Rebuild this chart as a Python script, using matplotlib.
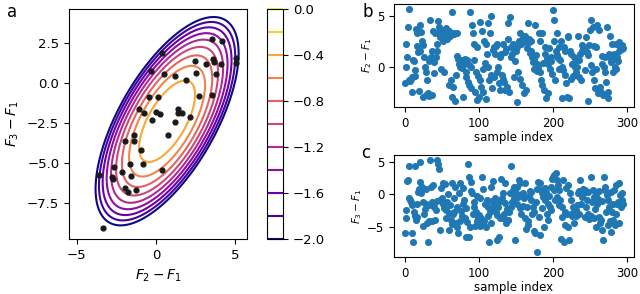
import numpy as np
import matplotlib
matplotlib.use("Agg")
import matplotlib.pyplot as plt

# ---- panel a: samples shown on top of the contours
a_x = [-3.38, -3.6, -2.79, -2.69, -2.63, -2.15, -1.96, -1.77, -1.29, -1.56, -1.63, -0.83,
       -0.96, -1.96, -1.38, -1.38, -1.06, -0.79, -0.46, 0.1, -0.27, -0.02, 0.23, 0.38,
       0.77, 1.19, 1.38, 1.42, 1.65, 2.17, 1.88, 1.21, 0.48, -0.33, 0.38, 2.44, 2.52,
       2.71, 3.15, 3.52, 4.17, 3.63, 3.65, 4.1, 3.79, 3.54, 5.08, 5.04]
a_y = [-9.08, -5.75, -5.86, -6.03, -5.27, -5.54, -6.55, -6.8, -6.67, -5.82, -5.1, -5.06,
       -4.18, -3.66, -3.66, -3.28, -1.67, -1.86, -0.92, -0.92, -2.32, -1.8, -1.97, -5.44,
       -3.28, -2.47, -1.63, -1.9, -1.9, -2.11, 0.15, 0.42, 0.52, 0.73, 1.86, 1.38, 0.61,
       -0.84, 1.15, 2.72, 2.59, 1.46, 1.3, 1.15, 0.52, -0.75, 1.57, 1.21]

# density model behind the contours (log scale)
center = (0.7, -2.4)
sig_x, sig_y, rho = 4.52, 6.5, 0.65
peak = -0.22
power = 2.44
levels = np.round(np.arange(-2.0, 0.01, 0.2), 1)
cbar_ticks = [0.0, -0.4, -0.8, -1.2, -1.6, -2.0]

# ---- panel b: F2 - F1 per sample
b_vals = [
    -1.6, 0.0, 2.3, 1.0, 3.9, 5.75, -1.3, -1.4, -1.2, -1.0,
    -2.5, 0.7, 0.6, -0.3, -0.9, 3.7, 3.3, 2.1, 1.5, -2.4,
    4.1, 1.6, 3.4, 2.6, -3.0, 2.2, 1.0, 0.0, -2.8, -0.5,
    -1.3, -2.6, 0.6, -2.9, 4.6, 1.0, -2.8, 1.6, 3.5, -0.6,
    0.5, 3.3, 1.0, 2.3, 1.6, 4.5, 3.9, 3.0, 3.5, -0.2,
    3.5, 3.0, 2.6, -0.5, 3.3, 3.8, 3.6, 2.8, 3.5, -1.8,
    3.5, 3.1, -1.3, -3.0, 5.4, -2.0, 3.3, 3.2, -3.4, -0.8,
    3.3, 1.1, 0.8, 0.3, 0.5, 0.0, 0.7, -0.1, -3.0, 0.2,
    0.6, 0.8, -0.5, -1.0, 0.7, -1.5, 0.2, -1.8, 5.4, 0.0,
    -2.1, 4.1, 3.3, 2.3, 0.7, -2.5, -0.5, -3.3, 2.0, -0.9,
    -3.0, -1.3, 4.4, -2.0, 3.5, -2.5, -0.2, 2.6, 0.4, -3.2,
    2.3, 1.3, 4.3, 0.0, -1.3, 3.3, -0.8, 5.0, -2.1, 1.7,
    2.0, -1.0, 1.3, 2.1, -0.5, 2.3, 0.0, -1.6, -2.3, 1.0,
    1.3, -0.8, -1.2, 2.3, -1.5, 1.5, -2.3, 1.8, -2.0, 2.8,
    4.3, -2.5, 4.9, 2.0, 1.0, 1.3, 2.3, -1.0, 1.6, 0.6,
    1.6, -3.5, 2.0, -0.5, 2.6, -1.2, 3.3, 2.3, -1.8, 2.5,
    3.0, -2.6, 2.6, 3.1, -2.3, 1.9, 4.3, 2.4, 2.8, 1.4,
    2.6, 1.6, 1.0, 0.5, 0.7, -0.2, 4.1, 1.2, -0.4, 0.3,
    0.0, 3.3, -0.5, 2.6, -1.3, 3.3, -1.8, 0.4, -2.3, 2.0,
    1.3, -3.1, 0.8, 0.3, -2.6, 1.9, -0.2, 0.6, 1.0, -0.7,
    5.6, 2.6, 4.6, -1.3, 1.6, 3.3, 1.2, 0.9, -0.2, 2.0,
    0.7, 2.6, 0.0, -3.1, -0.3, 2.0, -0.8, 1.6, -1.6, -3.0,
    3.1, 3.0, -3.1, 1.6, 1.3, -1.2, 0.3, -0.9, 1.0, 0.4,
    0.0, -0.5, -0.8, 0.0, 3.1, 0.7, -1.0, 1.3, -1.3, 2.2,
    1.6, 2.0, 1.8, -0.3, 1.6, 3.0, 1.5, 1.2, -3.4, 2.2,
    3.6, 4.6, 0.2, -0.5, 3.9, 2.1, -1.3, -2.1, -0.2, 2.0,
    4.1, -2.6, 3.6, -2.3, -2.0, -2.5, 0.3, 1.1, -2.8, 0.0,
    1.0, -0.5, -1.5, 3.9, -2.5, -3.1, 1.3, 3.1, 0.8, 0.5,
    2.3, -0.5, 0.7, 1.3, 0.0, -0.2, 2.3, 1.0, 0.6, 1.6,
    2.5, 2.0, 2.1, 1.8, 2.2, 1.9,
]

# ---- panel c: F3 - F1 per sample
c_vals = [
    -5.8, -2.4, -3.6, 2.1, 2.2, 4.3, -0.6, -0.9, -1.2, -1.6,
    -5.9, -7.2, -2.6, -3.2, 4.3, -3.9, -3.4, -1.4, 0.4, 0.9,
    5.0, 1.9, 0.2, 1.2, -1.1, -4.8, -2.9, -2.2, -1.4, 0.8,
    -4.4, -7.2, -4.1, -1.6, 5.3, 1.2, -4.0, -1.1, 1.4, -1.3,
    -1.9, -3.9, -2.4, -1.0, 5.2, 4.7, 3.9, -0.9, -5.4, 1.0,
    -0.6, 1.7, -1.4, -2.0, 1.6, -2.4, -3.6, -1.2, 0.0, -2.8,
    -5.4, -1.6, -3.9, -4.5, 1.7, -3.0, -2.6, -0.5, 1.2, -4.4,
    -4.9, -1.9, -5.8, 0.2, -4.0, 1.7, -2.5, -3.3, 1.0, -1.5,
    -0.9, -3.6, -2.0, -6.4, -4.2, 4.7, 2.7, -6.4, -5.0, 0.5,
    1.9, 0.2, -3.0, -1.1, -1.9, -4.8, -2.6, -0.3, -4.0, -3.5,
    -3.1, -0.6, -4.8, -3.6, 2.7, -4.4, 0.9, -4.1, -1.5, -4.9,
    -1.4, -0.8, -1.9, -3.2, -7.2, -2.6, 1.2, -4.4, -1.0, 2.0,
    -1.4, -2.1, -0.5, -2.6, -3.1, -6.9, -1.9, -6.4, -3.6, -1.0,
    2.4, -0.6, -3.5, 0.2, -2.9, -1.3, 1.7, -4.4, -2.2, -3.9,
    -3.9, -2.6, 0.2, -1.9, 4.3, -1.2, 0.7, -0.5, 1.2, -6.9,
    0.2, -1.4, 1.2, -0.4, 2.2, -2.1, 1.7, -2.9, 0.0, -1.7,
    0.2, -0.6, 1.7, -3.6, -5.2, -1.9, -4.6, -4.1, -0.2, 0.5,
    0.4, -0.9, -3.0, -1.9, -5.5, -2.6, -5.9, -1.2, -8.8, 0.9,
    1.9, -3.4, -6.2, 1.7, 0.7, -2.0, 0.2, -0.4, -4.9, 1.0,
    -0.9, 0.4, -2.9, -1.5, -3.9, -0.3, -1.9, 1.2, -2.4, 2.4,
    2.7, 0.7, 2.9, -0.8, 3.2, 2.2, -0.4, 1.5, 0.7, -1.6,
    -0.9, -6.7, -1.9, -3.4, 2.2, -7.2, -4.7, -2.6, 1.0, -3.0,
    -4.9, 1.4, -6.9, 0.2, -3.0, -0.9, -3.3, -1.9, -4.4, -2.5,
    -2.9, -3.2, -2.4, -1.6, 0.2, -3.0, 0.6, 2.2, -1.4, 0.0,
    -0.4, 0.8, 0.2, -3.4, 0.7, -1.9, -0.9, -2.9, 0.4, -3.7,
    -3.6, -3.2, 2.7, -1.2, 0.7, -3.5, -0.4, -2.2, -5.0, 0.0,
    -1.4, -0.7, -3.4, 0.5, -4.4, -3.9, -5.4, -1.0, -6.9, 2.7,
    0.7, 1.2, -2.7, -0.1, -4.7, -0.9, -1.9, -4.0, 0.4, -5.7,
    -2.6, -1.4, -3.9, 0.7, -4.6, -2.9, 1.5, -1.4, -1.1, -4.4,
    1.7, -0.1, -1.9, 0.2, -0.9, -1.5,
]

W, H = 640, 294


def box(left, top, right, bottom):
    # pixel box -> figure fraction rect
    return [left / W, 1 - bottom / H, (right - left) / W, (bottom - top) / H]


fig = plt.figure(figsize=(W / 100, H / 100), dpi=100)

# ---- panel a
ax_a = fig.add_axes(box(69, 9, 247, 239))
gx, gy = np.meshgrid(np.linspace(-5.5, 5.75, 400), np.linspace(-9.75, 4.6, 400))
cov = np.array([[sig_x ** 2, rho * sig_x * sig_y], [rho * sig_x * sig_y, sig_y ** 2]])
inv = np.linalg.inv(cov)
dx, dy = gx - center[0], gy - center[1]
d2 = inv[0, 0] * dx * dx + 2 * inv[0, 1] * dx * dy + inv[1, 1] * dy * dy
field = peak - (2 + peak) * np.sqrt(d2) ** power
cs = ax_a.contour(gx, gy, field, levels=levels, cmap="plasma", vmin=-2, vmax=0, linewidths=1.5)
ax_a.scatter(a_x, a_y, s=12, color="#1a1a1a", zorder=3)
ax_a.set_xlim(-5.5, 5.75)
ax_a.set_ylim(-9.75, 4.6)
ax_a.set_xticks([-5, 0, 5])
ax_a.set_yticks([2.5, 0.0, -2.5, -5.0, -7.5])
ax_a.tick_params(labelsize=9.5)
ax_a.set_xlabel("$F_2 - F_1$", fontsize=10)
ax_a.set_ylabel("$F_3 - F_1$", fontsize=10)

cax = fig.add_axes(box(267, 9, 283, 239))
cb = fig.colorbar(cs, cax=cax, ticks=cbar_ticks)
cb.ax.tick_params(labelsize=9.5)

# ---- panel b
ax_b = fig.add_axes(box(394, 4, 634, 107))
ax_b.scatter(np.arange(len(b_vals)), b_vals, s=26, color="#1f77b4", linewidths=0)
ax_b.set_yticks([0, 5])
ax_b.set_xticks([0, 100, 200, 300])
ax_b.tick_params(labelsize=8.5)
ax_b.set_xlabel("sample index", fontsize=8.5, labelpad=1)
ax_b.set_ylabel("$F_2 - F_1$", fontsize=7.5, labelpad=2)

# ---- panel c
ax_c = fig.add_axes(box(394, 155, 634, 257))
ax_c.scatter(np.arange(len(c_vals)), c_vals, s=26, color="#1f77b4", linewidths=0)
ax_c.set_yticks([-5, 0, 5])
ax_c.set_xticks([0, 100, 200, 300])
ax_c.tick_params(labelsize=8.5)
ax_c.set_xlabel("sample index", fontsize=8.5, labelpad=1)
ax_c.set_ylabel("$F_3 - F_1$", fontsize=7.5, labelpad=2)

# panel letters
fig.text(7 / W, 1 - 17 / H, "a", fontsize=12, va="baseline")
fig.text(362 / W, 1 - 16.7 / H, "b", fontsize=12, va="baseline")
fig.text(361 / W, 1 - 158.3 / H, "c", fontsize=12, va="baseline")

fig.savefig("out.png", dpi=100)
